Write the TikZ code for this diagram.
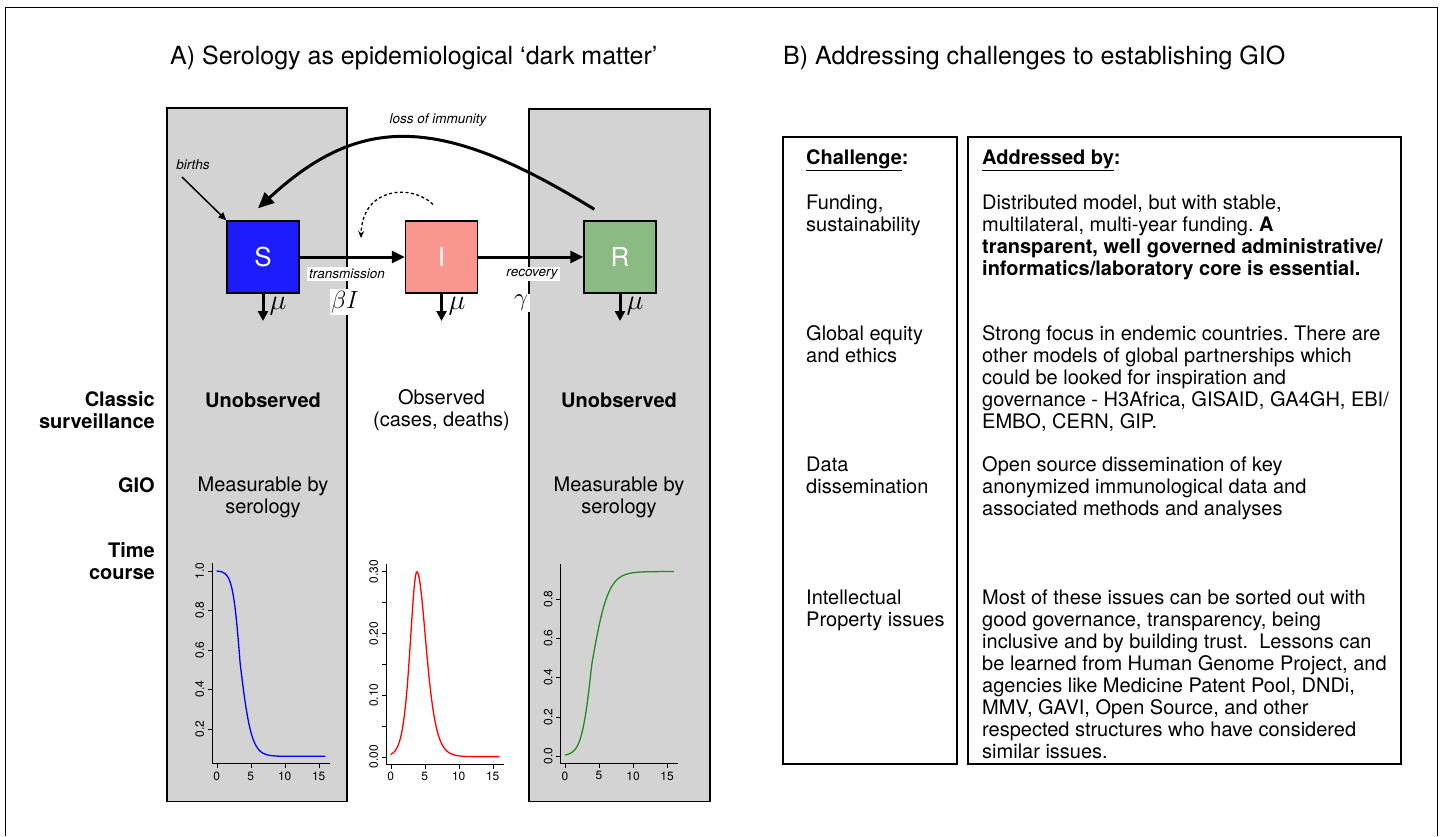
\documentclass[tikz,border=0pt]{standalone}
\usepackage{fontspec}
\usepackage{graphicx}
\setmainfont{TeX Gyre Heros}
\usetikzlibrary{arrows.meta}
\definecolor{panelgray}{RGB}{211,211,211}
\definecolor{sblue}{RGB}{28,28,252}
\definecolor{ipink}{RGB}{249,150,142}
\definecolor{rgreen}{RGB}{137,187,131}
\definecolor{curvegreen}{RGB}{34,139,34}
\newcommand{\bodyfont}{\fontsize{20}{22}\selectfont}
\newcommand{\bigmu}{\scalebox{1.15}{$\mu$}}
\frenchspacing
\begin{document}
\begin{tikzpicture}[x=1pt, y=-1pt,
    panel/.style={draw=black, line width=1.4pt, fill=panelgray},
    comp/.style={draw=black, line width=1.4pt, minimum size=72pt, inner sep=0pt, text=white, font=\fontsize{26}{30}\selectfont},
    flow/.style={line width=3pt, -{Triangle[length=13pt, width=12pt]}},
    death/.style={line width=3pt, -{Triangle[length=10pt, width=10pt]}},
    ratelab/.style={fill=white, inner sep=2pt, font=\fontsize{13.5}{16}\selectfont\itshape},
    ratesym/.style={fill=white, inner sep=1.5pt, font=\fontsize{26}{30}\selectfont},
    mulab/.style={inner sep=0pt, font=\fontsize{24}{26}\selectfont},
    rowlab/.style={align=right, anchor=east, inner sep=0pt, font=\bodyfont\bfseries},
    coltxt/.style={align=center, inner sep=0pt, font=\bodyfont},
    cell/.style={align=left, anchor=north west, inner sep=0pt, font=\bodyfont},
    tablebox/.style={draw=black, line width=1.2pt},
    ticklab/.style={inner sep=3.5pt, font=\fontsize{12}{14}\selectfont}]
\useasboundingbox (0,0) rectangle (1440,836);
\draw[line width=1.5pt] (5.3,836) -- (5.3,7.3) -- (1437.7,7.3) -- (1437.7,836); % frame

% titles
\node[anchor=west, inner sep=0pt, font=\fontsize{25}{30}\selectfont] (titleA) at (170,58) {A) Serology as epidemiological ‘dark matter’};
\node[anchor=west, inner sep=0pt, font=\fontsize{25}{30}\selectfont] (titleB) at (783,58) {B) Addressing challenges to establishing GIO};

% unobserved compartments
\draw[panel] (167,108) rectangle (347,801.5);
\draw[panel] (529,109) rectangle (710,801.5);

% SIR model
\node[comp, fill=sblue] (S) at (263,257) {S};
\node[comp, fill=ipink] (I) at (441.5,257) {I};
\node[comp, fill=rgreen] (R) at (620,257) {R};
\draw[flow] (S) -- (I);
\draw[flow] (I) -- (R);
\node[ratelab] (trans) at (347,274) {transmission};
\node[ratesym] (beta) at (345,302) {$\beta I$};
\node[ratelab] (recov) at (532,274) {recovery};
\node[ratesym] (gam) at (521,303) {$\gamma$};
\coordinate (Sout) at (263,321);
\coordinate (Iout) at (441.5,321);
\coordinate (Rout) at (620,321);
\draw[death] (S.south) -- (Sout);
\draw[death] (I.south) -- (Iout);
\draw[death] (R.south) -- (Rout);
\node[mulab] (muS) at (278,306) {\bigmu};
\node[mulab] (muI) at (457,306) {\bigmu};
\node[mulab] (muR) at (635,306) {\bigmu};
\coordinate (birthsrc) at (182,177);
\draw[line width=1.5pt, -{Triangle[length=8pt, width=7pt]}] (birthsrc) -- (S.north west);
\node[inner sep=0pt, font=\fontsize{13.5}{16}\selectfont\itshape] (births) at (193,165) {births};
\draw[line width=3pt, -{Triangle[length=16pt, width=14pt]}] ([xshift=11pt, yshift=11pt]R.north west) .. controls (440,114) and (360,114) .. ([xshift=-5pt, yshift=12pt]S.north);
\node[inner sep=0pt, font=\fontsize{13.5}{16}\selectfont\itshape] (loss) at (438,120) {loss of immunity};
\draw[line width=1.3pt, dash pattern=on 3pt off 2.5pt, -{Stealth[length=7pt, width=6pt]}] ([xshift=-8.5pt, yshift=16pt]I.north) .. controls (410,183) and (362,188) .. (361,238);

% row labels
\node[rowlab] (classic) at (155,410.5) {Classic\\surveillance};
\node[rowlab] (gio) at (155,485) {GIO};
\node[rowlab] (time) at (155,561) {Time\\course};
\node[coltxt, font=\bodyfont\bfseries] (unobsS) at (263,400) {Unobserved};
\node[coltxt] (obsI) at (441.5,410.5) {Observed\\(cases, deaths)};
\node[coltxt, font=\bodyfont\bfseries] (unobsR) at (619,400) {Unobserved};
\node[coltxt] (measS) at (263,497) {Measurable by\\serology};
\node[coltxt] (measR) at (619,497) {Measurable by\\serology};

% time course S
\begin{scope}[shift={(216.7,768.2)}, x=6.8pt, y=197.5pt]
  \draw[line width=1pt] (-0.64,1.04) -- (-0.64,0.022) -- (16.64,0.022);
  \foreach \t [count=\i] in {0,5,10,15}{\draw (\t,0.022) -- ++(0,-4.5pt) node[ticklab, anchor=north] (sx\i) {\t};}
  \foreach \v [count=\i] in {0.2,0.4,0.6,0.8,1.0}{\draw (-0.64,\v) -- ++(-4.5pt,0) node[ticklab, rotate=90, anchor=south] (sy\i) {\v};}
  \draw[blue, line width=1.3pt, domain=0:16, samples=150] plot (\x, {0.06+0.94/(1+exp(min(9,(\x<3.45 ? 1.85 : 1.2)*(\x-3.45))))});
\end{scope}

% time course I
\begin{scope}[shift={(390.7,756.7)}, x=6.8pt, y=616.7pt]
  \draw[line width=1pt] (-0.64,0.312) -- (-0.64,-0.012) -- (16.64,-0.012);
  \foreach \t [count=\i] in {0,5,10,15}{\draw (\t,-0.012) -- ++(0,-4.5pt) node[ticklab, anchor=north] (ix\i) {\t};}
  \foreach \v in {0.05,0.15,0.25}{\draw (-0.64,\v) -- ++(-4.5pt,0);}
  \foreach \v [count=\i] in {0.00,0.10,0.20,0.30}{\draw (-0.64,\v) -- ++(-4.5pt,0) node[ticklab, rotate=90, anchor=south] (iy\i) {\v};}
  \draw[red, line width=1.3pt, domain=0:16, samples=150] plot (\x, {0.3/(cosh(min(4.5,abs((\x<3.85 ? 0.75 : 0.55)*(\x-3.85)))))^2});
\end{scope}

% time course R
\begin{scope}[shift={(565,756)}, x=6.8pt, y=196.25pt]
  \draw[line width=1pt] (-0.64,0.9776) -- (-0.64,-0.0376) -- (16.64,-0.0376);
  \foreach \t [count=\i] in {0,5,10,15}{\draw (\t,-0.0376) -- ++(0,-4.5pt) node[ticklab, anchor=north] (rx\i) {\t};}
  \foreach \v [count=\i] in {0.0,0.2,0.4,0.6,0.8}{\draw (-0.64,\v) -- ++(-4.5pt,0) node[ticklab, rotate=90, anchor=south] (ry\i) {\v};}
  \draw[curvegreen, line width=1.3pt, domain=0:16, samples=150] plot (\x, {0.94/(1+exp(max(-9,(\x<3.95 ? -1.33 : -0.83)*(\x-3.95))))});
\end{scope}

% table B
\draw[tablebox] (783,137) rectangle (957,764);
\draw[tablebox] (968,137) rectangle (1401,764);
\node[cell, font=\bodyfont\bfseries] (chal) at (806,149.5) {\underline{Challenge}:};
\node[cell, font=\bodyfont\bfseries] (addr) at (982,149.5) {\underline{Addressed by}:};
\node[cell] (c1) at (806,194.5) {Funding,\\sustainability};
\node[cell] (a1) at (982,194.5) {Distributed model, but with stable,\\multilateral, multi-year funding. \textbf{A}\\\textbf{transparent, well governed administrative/}\\\textbf{informatics/laboratory core is essential.}};
\node[cell] (c2) at (806,325.5) {Global equity\\and ethics};
\node[cell] (a2) at (982,325.5) {Strong focus in endemic countries. There are\\other models of global partnerships which\\could be looked for inspiration and\\governance - H3Africa, GISAID, GA4GH, EBI/\\EMBO, CERN, GIP.};
\node[cell] (c3) at (806,456.5) {Data\\dissemination};
\node[cell] (a3) at (982,456.5) {Open source dissemination of key\\anonymized immunological data and\\associated methods and analyses};
\node[cell] (c4) at (806,589.5) {Intellectual\\Property issues};
\node[cell] (a4) at (982,589.5) {Most of these issues can be sorted out with\\good governance, transparency, being\\inclusive and by building trust.\ \ Lessons can\\be learned from Human Genome Project, and\\agencies like Medicine Patent Pool, DNDi,\\MMV, GAVI, Open Source, and other\\respected structures who have considered\\similar issues.};
\end{tikzpicture}
\end{document}
